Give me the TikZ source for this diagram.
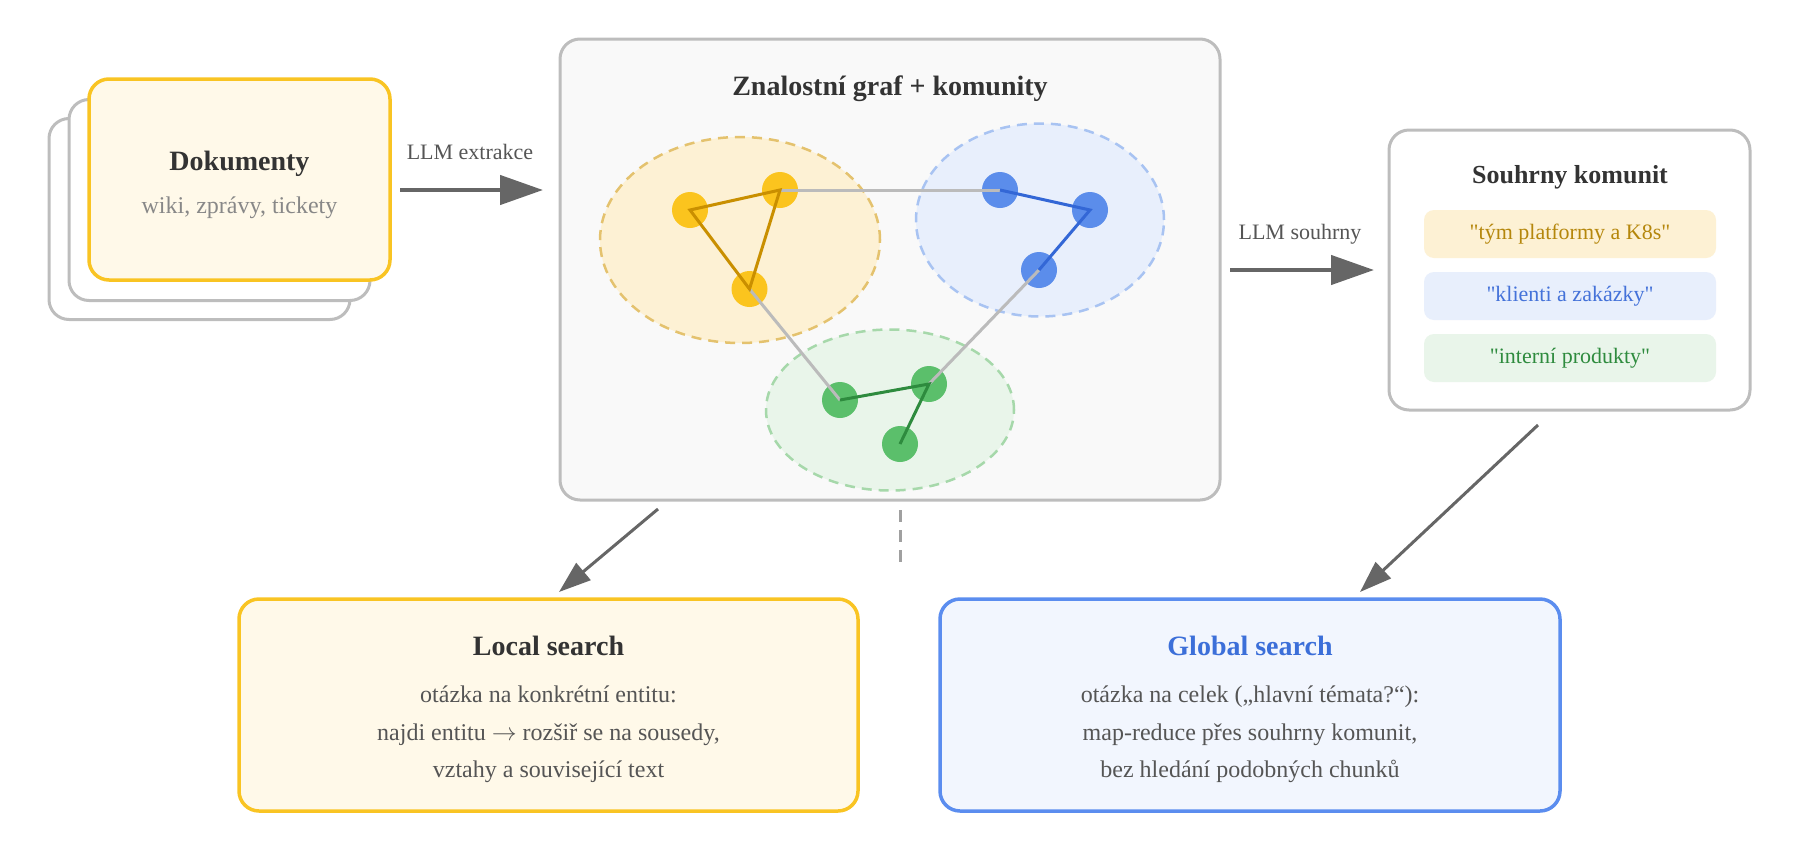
\documentclass[tikz,border=0pt]{standalone}
\usepackage{fontspec}
\setmainfont{Liberation Serif}
\usetikzlibrary{arrows.meta,shapes.geometric}
\definecolor{cgray}{HTML}{BDBDBD}
\definecolor{mainfill}{HTML}{F9F9F9}
\definecolor{ybord}{HTML}{F9C423}
\definecolor{yfillbox}{HTML}{FFF9E9}
\definecolor{ynode}{HTML}{FBC41E}
\definecolor{yedgec}{HTML}{C98F00}
\definecolor{yell}{HTML}{FDF1D4}
\definecolor{yelld}{HTML}{E4C26E}
\definecolor{bnode}{HTML}{5B8DEB}
\definecolor{bedgec}{HTML}{3367D6}
\definecolor{bell}{HTML}{E8EFFC}
\definecolor{belld}{HTML}{A8C3F2}
\definecolor{gnodec}{HTML}{5BBF6B}
\definecolor{gedgec}{HTML}{2E8B3E}
\definecolor{gell}{HTML}{E9F5EA}
\definecolor{gelld}{HTML}{A6D8AA}
\definecolor{grayedge}{HTML}{BBBBBB}
\definecolor{arrowc}{HTML}{666666}
\definecolor{titlec}{HTML}{333333}
\definecolor{bodyc}{HTML}{555555}
\definecolor{subc}{HTML}{888888}
\definecolor{dashc}{HTML}{A0A0A0}
\definecolor{ytext}{HTML}{B5870C}
\definecolor{btext}{HTML}{4472D9}
\definecolor{gtext}{HTML}{2E8B3E}
\definecolor{gbord}{HTML}{5B8DEF}
\definecolor{gfill}{HTML}{F2F6FE}
\definecolor{gtitle}{HTML}{3C6FD9}
\begin{document}
\begin{tikzpicture}[x=1pt,y=-1pt,
  backcard/.style={draw=cgray,line width=3pt,rounded corners=20pt,fill=white,inner sep=0pt,minimum width=301pt,minimum height=201pt},
  frontcard/.style={draw=ybord,line width=3.5pt,rounded corners=20pt,fill=yfillbox,inner sep=0pt,minimum width=301pt,minimum height=201pt},
  mainbox/.style={draw=cgray,line width=3pt,rounded corners=20pt,fill=mainfill,inner sep=0pt},
  sumbox/.style={draw=cgray,line width=3pt,rounded corners=20pt,fill=white,inner sep=0pt},
  itembox/.style={rounded corners=10pt,inner sep=0pt,minimum width=292pt,minimum height=48pt,font=\fontsize{22}{26}\selectfont},
  titletext/.style={inner sep=0pt,anchor=base,text=titlec,font=\fontsize{28}{32}\selectfont\bfseries},
  subtext/.style={inner sep=0pt,anchor=base,text=subc,font=\fontsize{24}{28}\selectfont},
  bodytext/.style={inner sep=0pt,anchor=base,text=bodyc,font=\fontsize{24}{28}\selectfont},
  lbltext/.style={inner sep=0pt,anchor=base,text=bodyc,font=\fontsize{22}{26}\selectfont},
  comm/.style={ellipse,line width=2.5pt,dash pattern=on 10pt off 7pt,inner sep=0pt},
  gnode/.style={circle,inner sep=0pt,minimum size=36pt},
  edgeline/.style={line width=3pt},
  harrow/.style={draw=arrowc,line width=4.5pt,-{Triangle[length=43pt,width=29pt]}},
  darrow/.style={draw=arrowc,line width=3pt,-{Triangle[length=32pt,width=22pt]}},
  localbox/.style={draw=ybord,line width=3.5pt,rounded corners=20pt,fill=yfillbox,inner sep=0pt,minimum width=619pt,minimum height=212pt},
  globalbox/.style={draw=gbord,line width=3.5pt,rounded corners=20pt,fill=gfill,inner sep=0pt,minimum width=620pt,minimum height=212pt}
]
\useasboundingbox (0,0) rectangle (1800,860);

% Documents stack
\node[backcard] (doc3) at (199.5,219) {};
\node[backcard] (doc2) at (219.5,200) {};
\node[frontcard] (doc1) at (239.5,179.5) {};
\node[titletext] (doct) at (239.5,170.5) {Dokumenty};
\node[subtext] (docs) at (239.5,213) {wiki, zprávy, tickety};

% arrow 1
\coordinate (a1s) at (400,190);
\coordinate (a1e) at (543,190);
\draw[harrow] (a1s) -- (a1e);
\node[lbltext] (a1l) at (470,159) {LLM extrakce};

% Main graph box
\node[mainbox,minimum width=660pt,minimum height=461pt] (main) at (890,269.5) {};
\node[titletext] (maint) at (890,95) {Znalostní graf + komunity};

\node[comm,draw=yelld,fill=yell,minimum width=280pt,minimum height=206pt] (ey) at (740,240) {};
\node[comm,draw=belld,fill=bell,minimum width=248pt,minimum height=193pt] (eb) at (1040,220) {};
\node[comm,draw=gelld,fill=gell,minimum width=248pt,minimum height=161pt] (eg) at (890,410) {};

\node[gnode,fill=ynode] (y1) at (690,210) {};
\node[gnode,fill=ynode] (y2) at (780,190) {};
\node[gnode,fill=ynode] (y3) at (749.5,289) {};
\node[gnode,fill=bnode] (b1) at (1000,190) {};
\node[gnode,fill=bnode] (b2) at (1090,210) {};
\node[gnode,fill=bnode] (b3) at (1039,270) {};
\node[gnode,fill=gnodec] (g1) at (840,400) {};
\node[gnode,fill=gnodec] (g2) at (929,384) {};
\node[gnode,fill=gnodec] (g3) at (900,444) {};

\draw[edgeline,draw=grayedge] (y2.center) -- (b1.center);
\draw[edgeline,draw=grayedge] (y3.center) -- (g1.center);
\draw[edgeline,draw=grayedge] (b3.center) -- (g2.center);
\draw[edgeline,draw=yedgec,line join=miter] (y1.center) -- (y2.center) -- (y3.center) -- cycle;
\draw[edgeline,draw=bedgec] (b1.center) -- (b2.center) -- (b3.center);
\draw[edgeline,draw=gedgec] (g1.center) -- (g2.center) -- (g3.center);

% dashed line below main
\coordinate (ds) at (900,510);
\coordinate (de) at (900,562);
\draw[draw=dashc,line width=3pt,dash pattern=on 12pt off 8pt] (ds) -- (de);

% arrow 2
\coordinate (a2s) at (1230,270);
\coordinate (a2e) at (1374,270);
\draw[harrow] (a2s) -- (a2e);
\node[lbltext] (a2l) at (1300,239) {LLM souhrny};

% Summaries
\node[sumbox,minimum width=361pt,minimum height=280pt] (sum) at (1569.5,270) {};
\node[titletext,font=\fontsize{26}{30}\selectfont\bfseries] (sumt) at (1570,183) {Souhrny komunit};
\node[itembox,fill=yell,text=ytext] (s1) at (1570,234) {\textquotedbl tým platformy a K8s\textquotedbl};
\node[itembox,fill=bell,text=btext] (s2) at (1570,296) {\textquotedbl klienti a zakázky\textquotedbl};
\node[itembox,fill=gell,text=gtext] (s3) at (1570,358) {\textquotedbl interní produkty\textquotedbl};

% diagonal arrows
\coordinate (d1s) at (658,509);
\coordinate (d1e) at (559,592);
\draw[darrow] (d1s) -- (d1e);
\coordinate (d2s) at (1538,425);
\coordinate (d2e) at (1360,592);
\draw[darrow] (d2s) -- (d2e);

% Local search
\node[localbox] (loc) at (548.5,705) {};
\node[titletext] (loct) at (548.5,655) {Local search};
\node[bodytext] (loc1) at (548.5,702) {otázka na konkrétní entitu:};
\node[bodytext] (loc2) at (548.5,740) {najdi entitu $\rightarrow$ rozšiř se na sousedy,};
\node[bodytext] (loc3) at (548.5,777) {vztahy a související text};

% Global search
\node[globalbox] (glob) at (1250,705) {};
\node[titletext,text=gtitle] (globt) at (1250,655) {Global search};
\node[bodytext] (glob1) at (1250,702) {otázka na celek („hlavní témata?“):};
\node[bodytext] (glob2) at (1250,740) {map-reduce přes souhrny komunit,};
\node[bodytext] (glob3) at (1250,777) {bez hledání podobných chunků};
\end{tikzpicture}
\end{document}
